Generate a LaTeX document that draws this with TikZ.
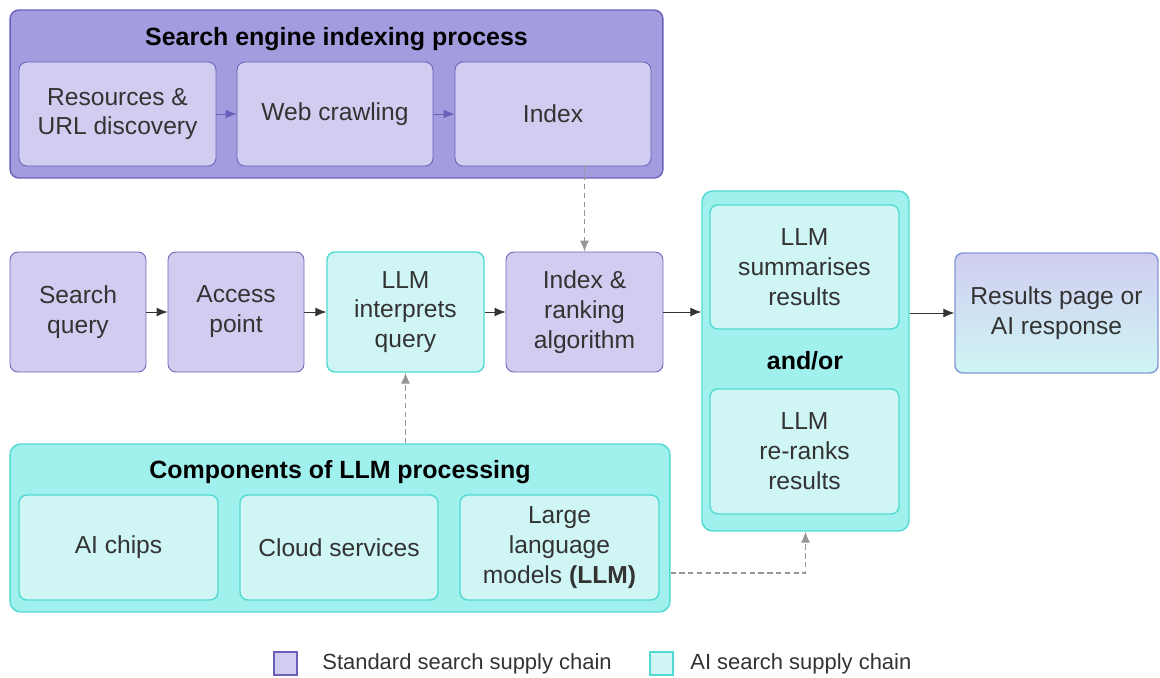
\documentclass[tikz,border=0pt]{standalone}
\usepackage{fontspec}
\setmainfont{Liberation Sans}
\usetikzlibrary{arrows.meta}

\definecolor{purpout}{RGB}{163,157,224}
\definecolor{purpin}{RGB}{208,205,240}
\definecolor{purpline}{RGB}{106,96,186}
\definecolor{cyanout}{RGB}{160,240,238}
\definecolor{cyanin}{RGB}{207,246,244}
\definecolor{cyanline}{RGB}{80,218,210}
\definecolor{txtgray}{RGB}{51,51,51}
\definecolor{dashgray}{RGB}{150,150,150}

\tikzset{
	boxtext/.style={font=\fontsize{14}{17}\selectfont, text=txtgray, align=center},
	stdbox/.style={boxtext, draw=purpline, fill=purpin, line width=0.5pt, rounded corners=4.5pt, inner sep=0pt},
	aibox/.style={boxtext, draw=cyanline, fill=cyanin, line width=0.8pt, rounded corners=4.5pt, inner sep=0pt},
	stdgroup/.style={draw=purpline, fill=purpout, line width=0.8pt, rounded corners=5pt, inner sep=0pt},
	aigroup/.style={draw=cyanline, fill=cyanout, line width=0.8pt, rounded corners=6pt, inner sep=0pt},
	grouptitle/.style={font=\fontsize{14.2}{17}\selectfont\bfseries, text=black},
	flow/.style={-{Latex[length=2.2mm,width=1.8mm]}, line width=0.5pt, draw=txtgray},
	inflow/.style={-{Latex[length=2.2mm,width=1.8mm]}, line width=0.5pt, draw=purpline},
	feed/.style={-{Latex[length=2.2mm,width=1.8mm]}, line width=0.6pt, draw=dashgray, dashed, dash pattern=on 3pt off 2pt},
	keybox/.style={minimum width=0.46cm, minimum height=0.46cm, line width=0.8pt, inner sep=0pt},
	keytext/.style={font=\fontsize{12.5}{15}\selectfont, text=txtgray, anchor=west, inner sep=0pt}
}

\begin{document}
\begin{tikzpicture}[x=0.02cm, y=-0.02cm]
	%%%%% START %%%%%
	\useasboundingbox (0,0) rectangle (1160,677);
	
	% indexing process
	\node[stdgroup, minimum width=13.06cm, minimum height=3.36cm] (idxgrp) at (336.5, 94) {};
	\node[grouptitle] (idxtitle) at (336.5, 39) {Search engine indexing process};
	\node[stdbox, minimum width=3.94cm, minimum height=2.08cm] (res) at (117.5, 114) {Resources \&\\URL discovery};
	\node[stdbox, minimum width=3.92cm, minimum height=2.08cm] (crawl) at (335, 114) {Web crawling};
	\node[stdbox, minimum width=3.92cm, minimum height=2.08cm] (idx) at (553, 114) {Index};
	\draw[inflow] (res) -- (crawl);
	\draw[inflow] (crawl) -- (idx);
	
	% main row
	\node[stdbox, minimum width=2.72cm, minimum height=2.4cm] (query) at (78, 312) {Search\\query};
	\node[stdbox, minimum width=2.72cm, minimum height=2.4cm] (access) at (236, 312) {Access\\point};
	\node[aibox, minimum width=3.14cm, minimum height=2.4cm] (interp) at (405.5, 312) {LLM\\interprets\\query};
	\node[stdbox, minimum width=3.14cm, minimum height=2.4cm] (rank) at (584.5, 312) {Index \&\\ranking\\algorithm};
	
	% llm output
	\node[aigroup, minimum width=4.14cm, minimum height=6.8cm] (outgrp) at (805.5, 361) {};
	\node[aibox, minimum width=3.78cm, minimum height=2.48cm] (summ) at (804.5, 267) {LLM\\summarises\\results};
	\node[grouptitle] (andor) at (805, 361) {and/or};
	\node[aibox, minimum width=3.78cm, minimum height=2.5cm] (rerank) at (804.5, 451.5) {LLM\\re-ranks\\results};
	
	\node[boxtext, top color=purpin, bottom color=cyanin, draw={rgb,255:red,130;green,150;blue,215}, line width=0.8pt, rounded corners=4.5pt, inner sep=0pt, minimum width=4.06cm, minimum height=2.4cm] (result) at (1056.5, 313) {Results page or\\AI response};
	
	\draw[flow] (query) -- (access);
	\draw[flow] (access) -- (interp);
	\draw[flow] (interp) -- (rank);
	\draw[flow] (rank) -- (rank -| outgrp.west);
	\draw[flow] (outgrp.east |- result) -- (result);
	
	% llm components
	\node[aigroup, minimum width=13.2cm, minimum height=3.36cm] (compgrp) at (340, 528) {};
	\node[grouptitle] (comptitle) at (340, 472) {Components of LLM processing};
	\node[aibox, minimum width=3.98cm, minimum height=2.1cm] (chips) at (118.5, 547.5) {AI chips};
	\node[aibox, minimum width=3.96cm, minimum height=2.1cm] (cloud) at (339, 547.5) {Cloud services};
	\node[aibox, minimum width=3.98cm, minimum height=2.1cm] (llm) at (559.5, 547.5) {Large\\language\\models \textbf{(LLM)}};
	
	\draw[feed] (rank.north |- idx.south) -- (rank.north);
	\draw[feed] (interp.south |- compgrp.north) -- (interp.south);
	\coordinate (llmlink) at (compgrp.east |- 0,573);
	\draw[feed] (llmlink) -| (outgrp.south);
	
	% key
	\node[keybox, draw=purpline, fill=purpin] (keystd) at (285.5, 663.5) {};
	\node[keytext] (keystdtxt) at (322, 664) {Standard search supply chain};
	\node[keybox, draw=cyanline, fill=cyanin] (keyai) at (661.5, 663.5) {};
	\node[keytext] (keyaitxt) at (690, 664) {AI search supply chain};
	
	%%%%% END %%%%%
\end{tikzpicture}
\end{document}
